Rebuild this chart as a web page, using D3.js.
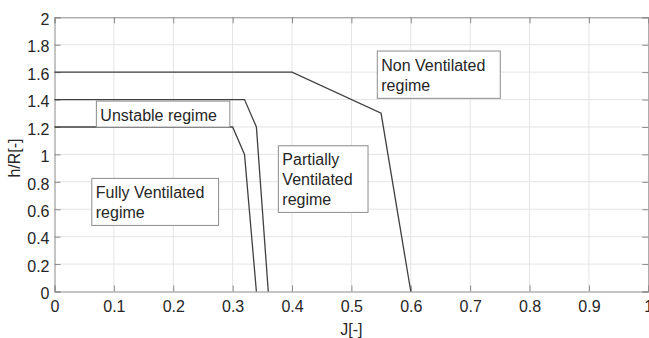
<!DOCTYPE html>
<html>
<head>
<meta charset="utf-8">
<script src="https://cdn.jsdelivr.net/npm/d3@7"></script>
<style>
  html, body { margin: 0; padding: 0; background: #fff; }
  svg { display: block; font-family: "Liberation Sans", Arial, sans-serif; }
</style>
</head>
<body>
<svg id="chart" width="649" height="338"></svg>
<script>
// ---- data ----
const xTicks = [0, 0.1, 0.2, 0.3, 0.4, 0.5, 0.6, 0.7, 0.8, 0.9, 1];
const yTicks = [0, 0.2, 0.4, 0.6, 0.8, 1, 1.2, 1.4, 1.6, 1.8, 2];
const xLabel = "J[-]";
const yLabel = "h/R[-]";

// boundary curves (J, h/R)
const fullyBoundary    = [[0, 1.2], [0.30, 1.2], [0.32, 1.0], [0.34, 0]];
const unstableBoundary = [[0, 1.4], [0.32, 1.4], [0.34, 1.2], [0.36, 0]];
const nonVentBoundary  = [[0, 1.6], [0.40, 1.6], [0.55, 1.3], [0.60, 0]];
const boundaries = [fullyBoundary, unstableBoundary, nonVentBoundary];

// annotation text boxes: lines, box corners in data units [x0, yTop, x1, yBottom]
const annotationLines = [
  ["Unstable regime"],
  ["Fully Ventilated", "regime"],
  ["Partially", "Ventilated", "regime"],
  ["Non Ventilated", "regime"]
];
const annotationBoxes = [
  [0.0705, 1.389, 0.2953, 1.199],
  [0.0628, 0.825, 0.2763, 0.482],
  [0.377, 1.063, 0.528, 0.577],
  [0.5436, 1.754, 0.7507, 1.409]
];

// ---- layout ----
const svg = d3.select("#chart");
const mLeft = 54.5, mRight = 648.3, mTop = 17.3, mBottom = 291.5;
const x = d3.scaleLinear().domain([0, 1]).range([mLeft, mRight]);
const y = d3.scaleLinear().domain([0, 2]).range([mBottom, mTop]);

const axisColor = "#8a8a8a";
const textColor = "#262626";
const fontSize = 16;

// grid
const grid = svg.append("g");
grid.selectAll(".gx").data(xTicks.slice(1, -1)).enter().append("line")
  .attr("x1", d => x(d)).attr("x2", d => x(d))
  .attr("y1", mTop).attr("y2", mBottom)
  .attr("stroke", "#e4e4e4").attr("stroke-width", 1);
grid.selectAll(".gy").data(yTicks.slice(1, -1)).enter().append("line")
  .attr("y1", d => y(d)).attr("y2", d => y(d))
  .attr("x1", mLeft).attr("x2", mRight)
  .attr("stroke", "#e4e4e4").attr("stroke-width", 1);

// axes (MATLAB style box, inward ticks)
const tickLen = 6;
const fmt = d => d3.format("~g")(d);

const xAxisB = d3.axisBottom(x).tickValues(xTicks).tickSize(-tickLen).tickPadding(10).tickFormat(fmt);
const xAxisT = d3.axisTop(x).tickValues(xTicks).tickSize(-tickLen).tickFormat("");
const yAxisL = d3.axisLeft(y).tickValues(yTicks).tickSize(-tickLen).tickPadding(5).tickFormat(fmt);
const yAxisR = d3.axisRight(y).tickValues(yTicks).tickSize(-tickLen).tickFormat("");

function styleAxis(g) {
  g.select(".domain").attr("stroke", axisColor).attr("stroke-width", 1);
  g.selectAll(".tick line").attr("stroke", axisColor).attr("stroke-width", 1);
  g.selectAll(".tick text").attr("fill", textColor)
    .style("font-size", fontSize + "px")
    .style("font-family", "'Liberation Sans', Arial, sans-serif");
}

svg.append("g").attr("transform", `translate(0,${mBottom})`).call(xAxisB).call(styleAxis)
  .selectAll(".tick text").attr("dy", "0.68em");
svg.append("g").attr("transform", `translate(0,${mTop})`).call(xAxisT).call(styleAxis);
svg.append("g").attr("transform", `translate(${mLeft},0)`).call(yAxisL).call(styleAxis)
  .selectAll(".tick text").attr("dy", "0.45em");
svg.append("g").attr("transform", `translate(${mRight},0)`).call(yAxisR).call(styleAxis);

// boundary lines
const line = d3.line().x(d => x(d[0])).y(d => y(d[1]));
svg.append("g").selectAll("path").data(boundaries).enter().append("path")
  .attr("d", line)
  .attr("fill", "none")
  .attr("stroke", "#404040")
  .attr("stroke-width", 1.3);

// annotation boxes
const ann = svg.append("g");
annotationBoxes.forEach((b, i) => {
  const bx = x(b[0]), by = y(b[1]), bw = x(b[2]) - x(b[0]), bh = y(b[3]) - y(b[1]);
  ann.append("rect")
    .attr("x", bx).attr("y", by).attr("width", bw).attr("height", bh)
    .attr("fill", "#fff").attr("stroke", "#8c8c8c").attr("stroke-width", 1);
  const t = ann.append("text")
    .attr("fill", textColor)
    .style("font-size", fontSize + "px");
  annotationLines[i].forEach((s, j) => {
    t.append("tspan").attr("x", bx + 4).attr("y", by + 19.5 + j * 20).text(s);
  });
});

// axis labels
svg.append("text")
  .attr("x", (mLeft + mRight) / 2).attr("y", 334.5)
  .attr("text-anchor", "middle")
  .attr("fill", textColor)
  .style("font-size", fontSize + "px")
  .text(xLabel);
svg.append("text")
  .attr("transform", `translate(20,${158}) rotate(-90)`)
  .attr("text-anchor", "middle")
  .attr("fill", textColor)
  .style("font-size", fontSize + "px")
  .text(yLabel);
</script>
</body>
</html>
